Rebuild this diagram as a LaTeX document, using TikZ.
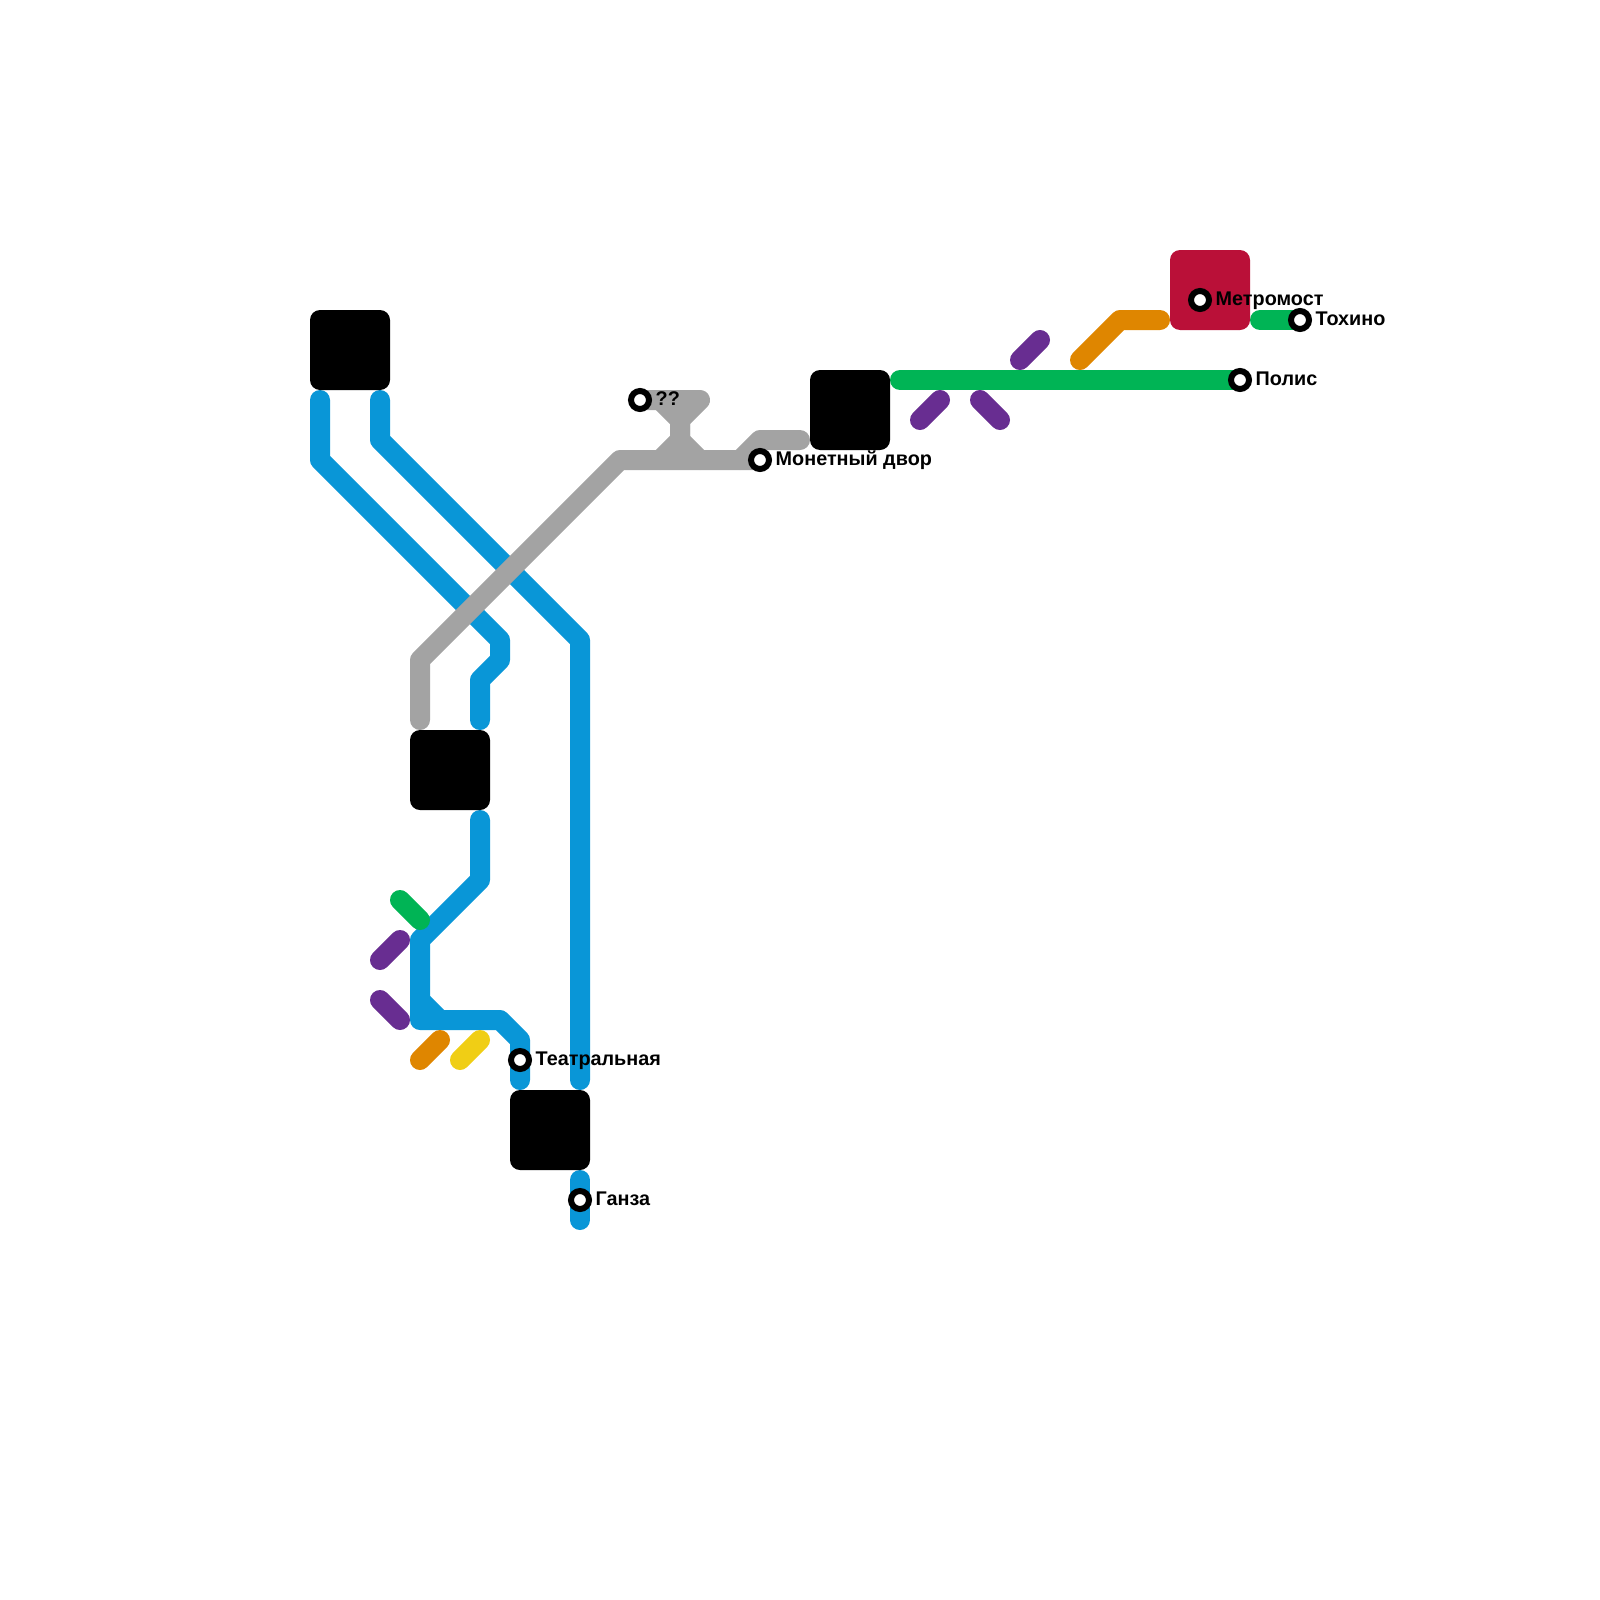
\documentclass[tikz,border=0pt]{standalone}
\usepackage{fontspec}
\setmainfont{Liberation Sans}
\usepackage{xcolor}
\usetikzlibrary{positioning,backgrounds}
\definecolor{lineblue}{HTML}{0996D7}
\definecolor{linegrey}{HTML}{A3A3A3}
\definecolor{linegreen}{HTML}{00B455}
\definecolor{linepurple}{HTML}{682D91}
\definecolor{lineorange}{HTML}{DF8600}
\definecolor{lineyellow}{HTML}{F0CE15}
\definecolor{hubred}{HTML}{BA1038}
\begin{document}
\begin{tikzpicture}[
      x=1pt, y=-1pt,
      node distance=3.5pt,
      hub/.style={rectangle, fill=black, rounded corners=10pt, minimum size=80pt, inner sep=0pt},
      stop/.style={circle, draw=black, fill=white, line width=6pt, minimum size=18pt, inner sep=0pt},
      lab/.style={font=\bfseries\fontsize{19.8}{24}\selectfont, inner sep=0pt, text height=15pt, text depth=5pt},
      route/.style={line width=20pt, line cap=round, line join=round}]
    \useasboundingbox (0,0) rectangle (1600,1600);
    \node[hub] (hubnw) at (350,350) {};
    \node[hub] (hubw) at (450,770) {};
    \node[hub] (hubs) at (550,1130) {};
    \node[hub] (hubn) at (850,410) {};
    \node[hub, fill=hubred] (hubne) at (1210,290) {};
    \node[stop] (unknown) at (640,400) {};
    \node[stop] (mint) at (760,460) {};
    \node[stop] (theatre) at (520,1060) {};
    \node[stop] (hansa) at (580,1200) {};
    \node[stop] (polis) at (1240,380) {};
    \node[stop] (metromost) at (1200,300) {};
    \node[stop] (tokhino) at (1300,320) {};
    \node[lab, right=of unknown] (unknownlab) {??};
    \node[lab, right=of mint] (mintlab) {Монетный двор};
    \node[lab, right=of theatre] (theatrelab) {Театральная};
    \node[lab, right=of hansa] (hansalab) {Ганза};
    \node[lab, right=of polis] (polislab) {Полис};
    \node[lab, right=of metromost] (metromostlab) {Метромост};
    \node[lab, right=of tokhino] (tokhinolab) {Тохино};
    \begin{scope}[on background layer]
      % blue
      \draw[route, lineblue] (320,400) -- (320,460) -- (500,640) -- (500,660) -- (480,680) -- (480,720);
      \draw[route, lineblue] (380,400) -- (380,440) -- (580,640) -- (580,1080);
      \draw[route, lineblue] (480,820) -- (480,880) -- (420,940) -- (420,1020) -- (500,1020) -- (520,1040) -- (theatre.center) -- (520,1080);
      \draw[route, lineblue] (420,1000) -- (440,1020);
      \draw[route, lineblue] (580,1180) -- (hansa.center) -- (580,1220);
      % grey
      \draw[route, linegrey] (420,720) -- (420,660) -- (620,460) -- (mint.center);
      \draw[route, linegrey] (740,460) -- (760,440) -- (800,440);
      \draw[route, linegrey] (unknown.center) -- (700,400) -- (680,420) -- (680,440) -- (660,460);
      \draw[route, linegrey] (660,400) -- (680,420) -- (680,440) -- (700,460);
      % green
      \draw[route, linegreen] (900,380) -- (polis.center);
      \draw[route, linegreen] (1260,320) -- (tokhino.center);
      \draw[route, linegreen] (400,900) -- (420,920);
      % purple
      \draw[route, linepurple] (380,960) -- (400,940);
      \draw[route, linepurple] (380,1000) -- (400,1020);
      \draw[route, linepurple] (920,420) -- (940,400);
      \draw[route, linepurple] (980,400) -- (1000,420);
      \draw[route, linepurple] (1020,360) -- (1040,340);
      % orange, yellow
      \draw[route, lineorange] (420,1060) -- (440,1040);
      \draw[route, lineorange] (1080,360) -- (1120,320) -- (1160,320);
      \draw[route, lineyellow] (460,1060) -- (480,1040);
    \end{scope}
  \end{tikzpicture}
\end{document}
